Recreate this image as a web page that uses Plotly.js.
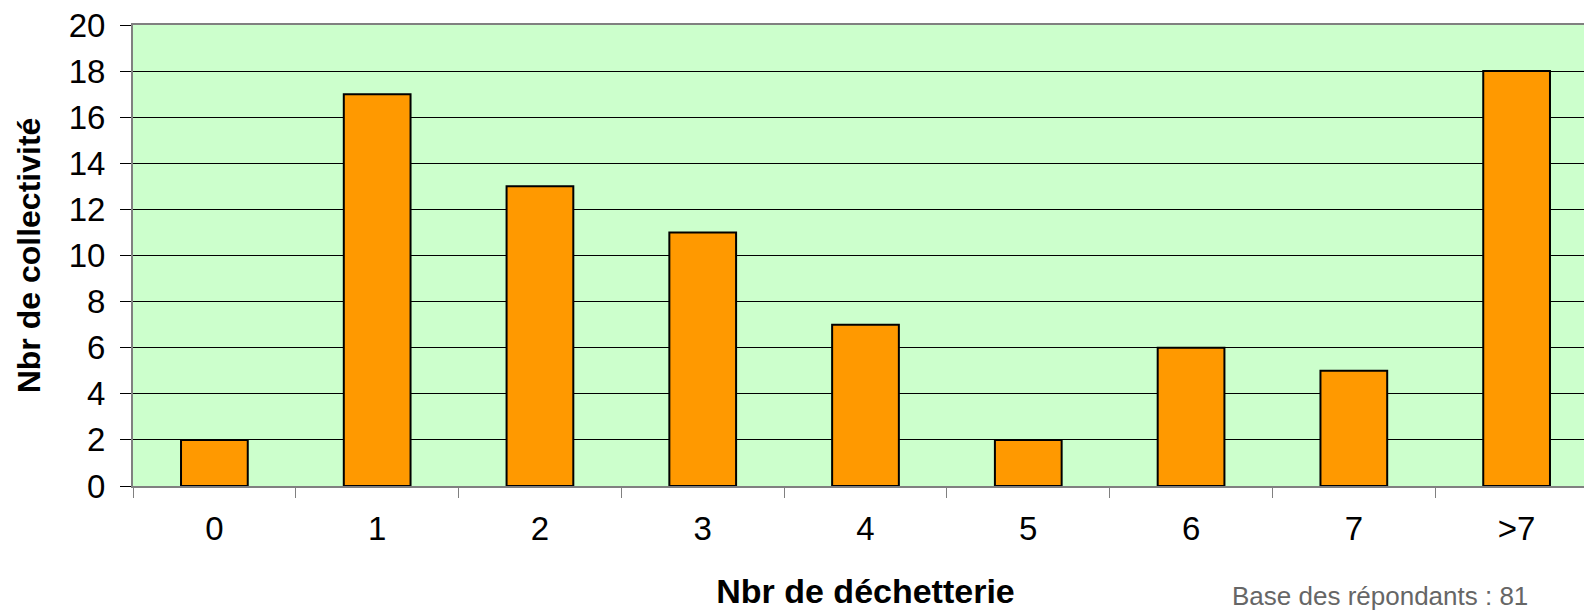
<!DOCTYPE html>
<html>
<head>
<meta charset="utf-8">
<script src="https://cdn.plot.ly/plotly-3.0.1.min.js"></script>
<style>
  html, body { margin: 0; padding: 0; overflow: hidden; background: #fff; }
  #chart { width: 1600px; height: 612px; }
</style>
</head>
<body>
<div id="chart"></div>
<script>
const categories = ["0", "1", "2", "3", "4", "5", "6", "7", ">7"];
const counts = [2, 17, 13, 11, 7, 2, 6, 5, 18];
const yTickValues = [0, 2, 4, 6, 8, 10, 12, 14, 16, 18, 20];
const xTitle = "Nbr de déchetterie";
const yTitle = "Nbr de collectivité";
const footnote = "Base des répondants : 81";

const FONT = '"Liberation Sans", Arial, sans-serif';

const trace = {
  type: "bar",
  x: categories,
  y: counts,
  width: 0.41,
  marker: { color: "#FF9900", line: { color: "#000000", width: 2 } },
  hoverinfo: "x+y"
};

const layout = {
  width: 1600,
  height: 612,
  margin: { l: 133, r: 2, t: 25, b: 126 },
  paper_bgcolor: "#ffffff",
  plot_bgcolor: "#CCFFCC",
  showlegend: false,
  font: { family: FONT, color: "#000" },
  xaxis: {
    type: "category",
    tickson: "boundaries",
    ticks: "outside",
    ticklen: 10,
    tickwidth: 1,
    tickcolor: "#808080",
    showline: true,
    linecolor: "#808080",
    linewidth: 2,
    mirror: true,
    showgrid: false,
    tickfont: { size: 33, family: FONT, color: "#000" },
    ticklabelstandoff: 12,
    automargin: false,
    title: { text: xTitle, font: { size: 34, family: FONT, weight: "bold", color: "#000" }, standoff: 34 }
  },
  yaxis: {
    range: [0, 20],
    tickvals: yTickValues,
    ticks: "outside",
    ticklen: 11,
    tickwidth: 1,
    tickcolor: "#000",
    showline: true,
    linecolor: "#808080",
    linewidth: 2,
    mirror: true,
    showgrid: true,
    gridcolor: "#000000",
    gridwidth: 1,
    zeroline: false,
    tickfont: { size: 33, family: FONT, color: "#000" },
    ticklabelstandoff: 8,
    automargin: false,
    title: { text: yTitle, font: { size: 32, family: FONT, weight: "bold", color: "#000" }, standoff: 18 }
  },
  annotations: [{
    text: footnote,
    xref: "paper", yref: "paper",
    x: 0.9536, y: -0.2386,
    xanchor: "right", yanchor: "middle",
    showarrow: false,
    font: { size: 26, family: FONT, color: "#666666" }
  }]
};

Plotly.newPlot("chart", [trace], layout, { displayModeBar: false, staticPlot: true });
</script>
</body>
</html>
